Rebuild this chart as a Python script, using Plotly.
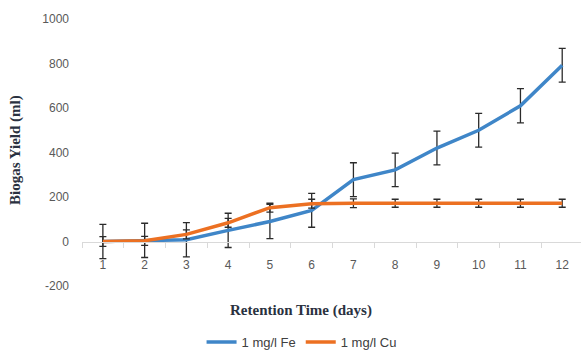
import plotly.graph_objects as go

days = [1, 2, 3, 4, 5, 6, 7, 8, 9, 10, 11, 12]
fe_yield = [0, 5, 8, 50, 90, 140, 278, 322, 420, 500, 610, 792]
fe_err = [77, 77, 77, 77, 77, 76, 76, 75, 76, 76, 77, 76]
cu_yield = [0, 3, 32, 84, 152, 170, 172, 172, 172, 172, 172, 172]
cu_err = [22, 20, 20, 20, 20, 20, 20, 18, 18, 18, 18, 18]
y_ticks = [-200, 0, 200, 400, 600, 800, 1000]
y_tick_labels = ["-200", "0", "200", "400", "600", "800", "1000"]

FE_COLOR = "#3F86C8"
CU_COLOR = "#EC7022"
ERR_COLOR = "#2B2B2B"

fig = go.Figure()
fig.add_trace(go.Scatter(
    x=days, y=fe_yield, mode="lines", name="1 mg/l Fe",
    line=dict(color=FE_COLOR, width=3.5),
    error_y=dict(type="data", array=fe_err, visible=True,
                 color=ERR_COLOR, thickness=1.3, width=3.5),
))
fig.add_trace(go.Scatter(
    x=days, y=cu_yield, mode="lines", name="1 mg/l Cu",
    line=dict(color=CU_COLOR, width=3.5),
    error_y=dict(type="data", array=cu_err, visible=True,
                 color=ERR_COLOR, thickness=1.3, width=3.5),
))

y0_frac = 200 / 1200

fig.update_layout(
    width=581, height=350,
    margin=dict(l=82, r=0, t=19, b=64, autoexpand=False),
    paper_bgcolor="white", plot_bgcolor="white",
    font=dict(family="Liberation Sans", size=11, color="#595959"),
    showlegend=True,
    legend=dict(orientation="h", x=0.44, xanchor="center", y=-0.21, yanchor="middle",
                font=dict(family="Liberation Sans", size=13, color="#404040"),
                itemwidth=30, tracegroupgap=0),
    xaxis=dict(
        range=[0.5, 12.45], tickvals=days, ticktext=[str(d) for d in days],
        showgrid=False, zeroline=False,
        showline=True, linecolor="#D9D9D9", linewidth=1,
        anchor="free", position=y0_frac,
        ticks="", ticklabelstandoff=12,
        tickfont=dict(size=12, color="#595959"),
        minor=dict(tickvals=[d - 0.5 for d in days] + [12.5], ticks="outside",
                   ticklen=5, tickcolor="#D9D9D9", tickwidth=1),
    ),
    yaxis=dict(
        range=[-200, 1000], tickvals=y_ticks, ticktext=y_tick_labels,
        showgrid=False, zeroline=False, showline=False,
        ticks="", ticklabelstandoff=12,
        tickfont=dict(size=12, color="#595959"),
    ),
    annotations=[
        dict(text="<b>Biogas Yield (ml)</b>", textangle=-90,
             xref="paper", yref="paper", x=(15 - 82) / 499, y=(286 - 150) / 267,
             xanchor="center", yanchor="middle", showarrow=False,
             font=dict(family="Liberation Serif", size=15, color="#2A3140")),
        dict(text="<b>Retention Time (days)</b>",
             xref="paper", yref="paper", x=(301 - 82) / 499, y=(286 - 310) / 267,
             xanchor="center", yanchor="middle", showarrow=False,
             font=dict(family="Liberation Serif", size=15, color="#2A3140")),
    ],
)

fig.write_html("out.html")
